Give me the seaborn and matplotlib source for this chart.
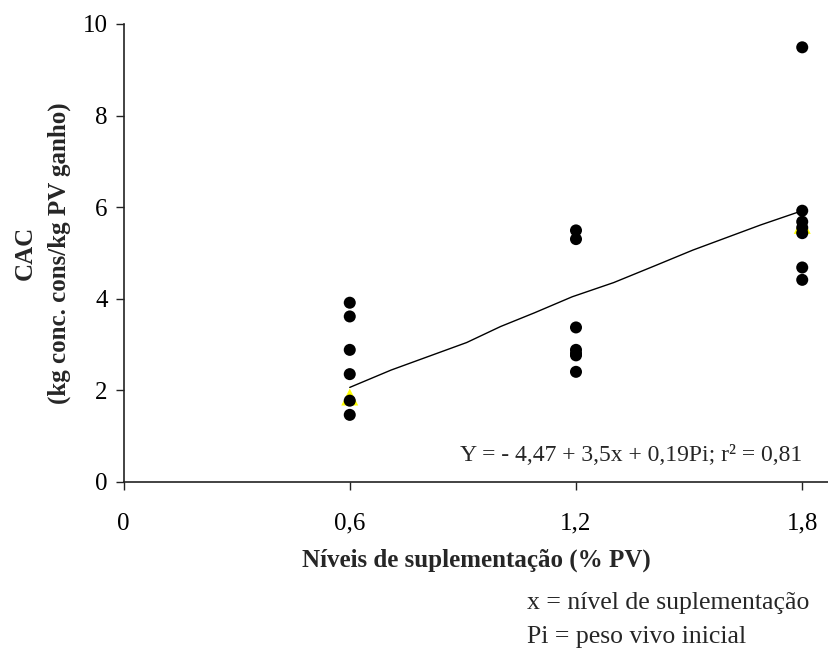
import matplotlib
matplotlib.use("Agg")
import matplotlib.pyplot as plt
import seaborn as sns
import pandas as pd

# ---- data ----
levels = [0.6, 1.2, 1.8]
cac_06 = [3.91, 3.61, 2.88, 2.35, 1.77, 1.46]
cac_12 = [5.49, 5.30, 3.37, 2.88, 2.80, 2.76, 2.40]
cac_18 = [9.49, 5.92, 5.68, 5.55, 5.43, 4.68, 4.41]
# hidden yellow triangles (second series, mostly behind the dots)
tri_x = [0.6, 1.8]
tri_y = [1.85, 5.60]
# fitted line (multiple regression, plotted against x)
fit_x = [0.60, 0.71, 0.91, 1.00, 1.09, 1.19, 1.30, 1.41, 1.51, 1.69, 1.80]
fit_y = [2.06, 2.44, 3.04, 3.39, 3.69, 4.04, 4.35, 4.72, 5.06, 5.61, 5.92]
x_ticks = [0, 0.6, 1.2, 1.8]
x_ticklabels = ["0", "0,6", "1,2", "1,8"]
y_ticks = [0, 2, 4, 6, 8, 10]
y_ticklabels = ["0", "2", "4", "6", "8", "10"]
equation = "Y = - 4,47 + 3,5x + 0,19Pi; r² = 0,81"
xlabel = "Níveis de suplementação (% PV)"
ylabel = "CAC\n(kg conc. cons/kg PV ganho)"
notes = ["x = nível de suplementação", "Pi = peso vivo inicial"]

pts = pd.DataFrame({
    "x": [levels[0]] * len(cac_06) + [levels[1]] * len(cac_12) + [levels[2]] * len(cac_18),
    "y": cac_06 + cac_12 + cac_18,
})
tri = pd.DataFrame({"x": tri_x, "y": tri_y})
fit = pd.DataFrame({"x": fit_x, "y": fit_y})

sns.set_style("ticks")
plt.rcParams["font.family"] = ["Liberation Serif", "DejaVu Serif"]

fig = plt.figure(figsize=(8.29, 6.55), dpi=100)
ax = fig.add_axes([0.149, 0.2646, 0.851, 0.6988])

sns.scatterplot(data=tri, x="x", y="y", marker="^", s=150, color="#ffff00",
                edgecolor="none", ax=ax, zorder=2)
sns.scatterplot(data=pts, x="x", y="y", marker="o", s=75, color="black",
                edgecolor="none", ax=ax, zorder=3)
sns.lineplot(data=fit, x="x", y="y", color="black", lw=1.0, ax=ax,
             sort=False, estimator=None, zorder=4)

ax.set_xlim(0, 1.871)
ax.set_ylim(0, 10)
ax.set_xticks(x_ticks)
ax.set_xticklabels(x_ticklabels)
ax.set_yticks(y_ticks)
ax.set_yticklabels(y_ticklabels)

for s in ["top", "right"]:
    ax.spines[s].set_visible(False)
for s in ["left", "bottom"]:
    ax.spines[s].set_color("#222222")
    ax.spines[s].set_linewidth(1.2)

ax.tick_params(direction="out", length=5.5, width=1.0, color="#222222",
               labelsize=18, labelcolor="black")
ax.tick_params(axis="x", pad=17)
ax.tick_params(axis="y", pad=6)

ax.set_xlabel(xlabel, fontsize=18, fontweight="bold", labelpad=10)
ax.set_ylabel(ylabel, fontsize=18, fontweight="bold", labelpad=8,
              linespacing=1.6)

ax.text(1.8, 0.58, equation, ha="right", va="center", fontsize=17)

fig.text(0.636, 0.079, notes[0], ha="left", va="center", fontsize=18.5)
fig.text(0.636, 0.027, notes[1], ha="left", va="center", fontsize=18.5)

fig.savefig("out.png", dpi=100)
